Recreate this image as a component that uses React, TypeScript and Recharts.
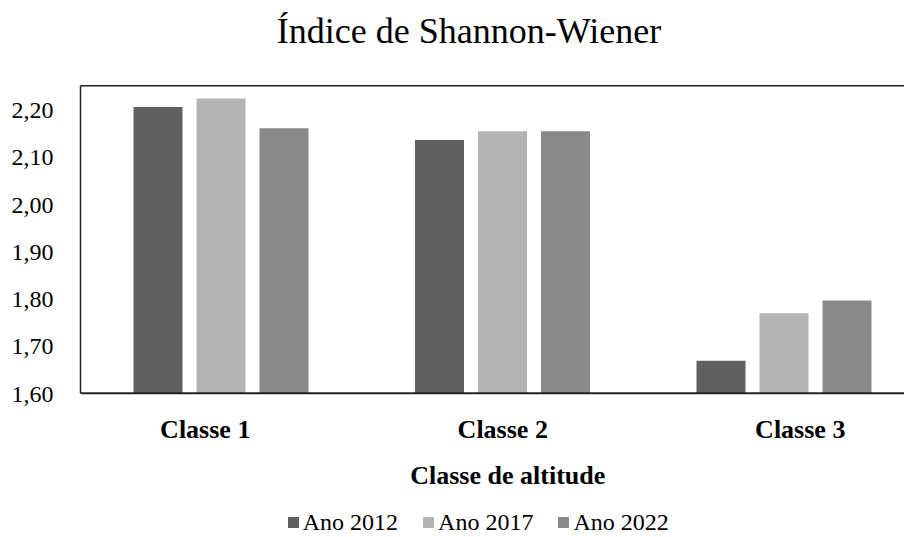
import React from "react";
import { BarChart, Bar, XAxis, YAxis, Legend, ReferenceLine, Label } from "recharts";

// Shannon-Wiener diversity index by altitude class
const categories = ["Classe 1", "Classe 2", "Classe 3"];
const ano2012 = [2.205, 2.135, 1.669];
const ano2017 = [2.223, 2.154, 1.769];
const ano2022 = [2.16, 2.154, 1.796];
const yTicks = [1.6, 1.7, 1.8, 1.9, 2.0, 2.1, 2.2];

const seriesNames = ["Ano 2012", "Ano 2017", "Ano 2022"];
const seriesColors = ["#606060", "#b3b3b3", "#898989"];

const FONT = '"Liberation Serif", "Times New Roman", serif';

const data = categories.map((c, i) => ({
  classe: c,
  a2012: ano2012[i],
  a2017: ano2017[i],
  a2022: ano2022[i],
}));

const fmt = (v: number) => v.toFixed(2).replace(".", ",");

function ClassTick(props: any) {
  const { x, y, payload, index } = props;
  // labels sit a little wider apart than the bar groups in the original
  const shift = (index - 1) * 16;
  return (
    <text
      x={x + shift}
      y={y}
      dy="0.71em"
      textAnchor="middle"
      fontFamily={FONT}
      fontSize={26}
      fontWeight="bold"
      fill="#000"
    >
      {payload.value}
    </text>
  );
}

function SquareLegend({ payload }: any) {
  return (
    <div
      style={{
        height: 20,
        display: "flex",
        justifyContent: "center",
        alignItems: "center",
        paddingLeft: 23,
        fontFamily: FONT,
        fontSize: 24,
        lineHeight: "16px",
        color: "#000",
      }}
    >
      {(payload || []).map((p: any, i: number) => (
        <span
          key={p.value}
          style={{ display: "flex", alignItems: "center", marginLeft: i ? 25 : 0 }}
        >
          <span
            style={{
              width: 11,
              height: 11,
              background: p.color,
              display: "inline-block",
              marginRight: 4,
            }}
          />
          <span style={{ lineHeight: "16px" }}>{p.value}</span>
        </span>
      ))}
    </div>
  );
}

export default function App() {
  return (
    <div
      style={{
        position: "relative",
        width: 904,
        height: 529,
        overflow: "hidden",
        background: "#fff",
        fontFamily: FONT,
      }}
    >
      <div
        style={{
          position: "absolute",
          top: 5,
          left: 0,
          width: 922,
          textAlign: "center",
          fontSize: 36,
          lineHeight: "36px",
          color: "#000",
          zIndex: 2,
        }}
      >
        Índice de Shannon-Wiener
      </div>
      <BarChart
        width={917}
        height={529}
        data={data}
        margin={{ top: 77.7, right: 0, bottom: 5, left: 0.5 }}
        barSize={49}
        barGap={14}
      >
        <XAxis
          dataKey="classe"
          tick={<ClassTick />}
          tickLine={false}
          tickSize={0}
          tickMargin={26}
          height={118.7}
          axisLine={{ stroke: "#222", strokeWidth: 2 }}
        >
          <Label
            value="Classe de altitude"
            position="insideBottom"
            offset={28}
            dx={5}
            fontFamily={FONT}
            fontSize={26}
            fontWeight="bold"
            fill="#000"
          />
        </XAxis>
        <YAxis
          type="number"
          domain={[1.6, 2.25]}
          ticks={yTicks}
          tickFormatter={fmt}
          width={72}
          tickLine={false}
          tickSize={0}
          tickMargin={27}
          axisLine={{ stroke: "#222", strokeWidth: 1.5 }}
          tick={{ fontFamily: FONT, fontSize: 24, fill: "#000" }}
        />
        <ReferenceLine y={2.25} stroke="#222" strokeWidth={1.5} />
        <Legend
          verticalAlign="bottom"
          height={20}
          content={<SquareLegend />}
        />
        <Bar dataKey="a2012" name={seriesNames[0]} fill={seriesColors[0]} isAnimationActive={false} />
        <Bar dataKey="a2017" name={seriesNames[1]} fill={seriesColors[1]} isAnimationActive={false} />
        <Bar dataKey="a2022" name={seriesNames[2]} fill={seriesColors[2]} isAnimationActive={false} />
      </BarChart>
    </div>
  );
}
